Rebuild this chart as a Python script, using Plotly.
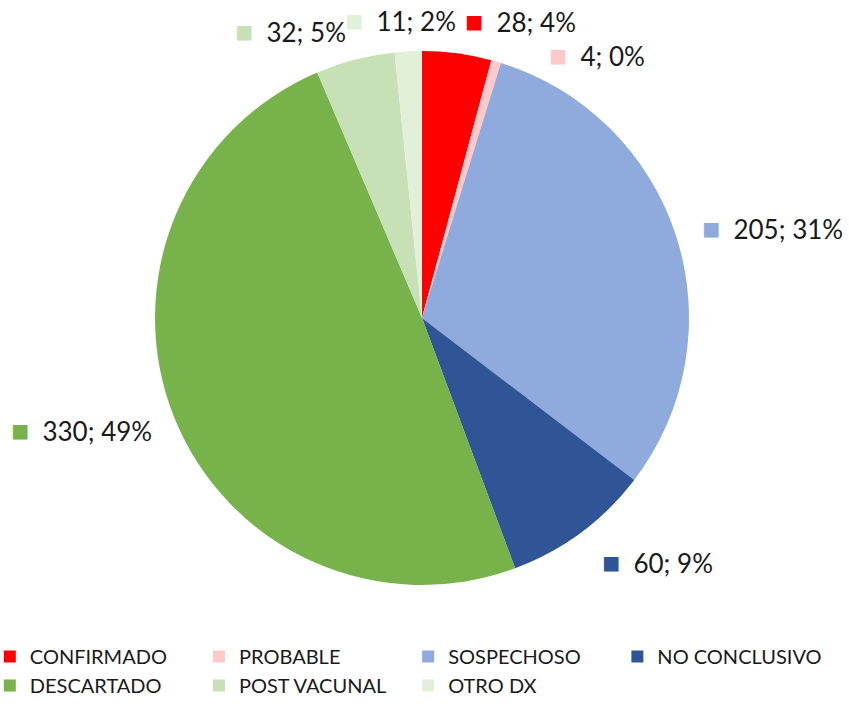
import math
import plotly.graph_objects as go

labels = ["CONFIRMADO", "PROBABLE", "SOSPECHOSO", "NO CONCLUSIVO",
          "DESCARTADO", "POST VACUNAL", "OTRO DX"]
values = [28, 4, 205, 60, 330, 32, 11]
pct_labels = [4, 0, 31, 9, 49, 5, 2]
colors = ["#FF0000", "#FFC9C9", "#8FAADC", "#2F5597",
          "#77B24B", "#C7E0B5", "#E2F0D9"]

W, H = 849, 706
MB = 100                      # bottom margin holding the legend
PH = H - MB                   # plot-area height
cx, cy, r = 422, 318, 267
dom_x = [(cx - r) / W, (cx + r) / W]
dom_y = [1 - (cy + r) / PH, 1 - (cy - r) / PH]

fig = go.Figure(go.Pie(
    labels=labels, values=values, sort=False, direction="clockwise",
    rotation=0, textinfo="none", hoverinfo="label+value+percent",
    marker=dict(colors=colors, line=dict(width=0)),
    domain=dict(x=dom_x, y=dom_y),
))

# data labels placed from slice mid-angles
label_shift = {0: (2, -2), 1: (42, 23), 2: (-7, 0), 3: (0, 3), 4: (10, 0),
               5: (1, 2), 6: (-6, 0)}
total = sum(values)
cum = 0
R = r * 1.12
annotations = []
for i, (v, p, c) in enumerate(zip(values, pct_labels, colors)):
    mid = (cum + v / 2) / total * 2 * math.pi
    cum += v
    s, co = math.sin(mid), math.cos(mid)
    px = cx + R * s
    py = cy - R * co
    dx, dy = label_shift.get(i, (0, 0))
    px += dx
    py += dy
    if s > 0.1 or i == 1:
        xa = "left"
    elif s < -0.1:
        xa = "right"
    else:
        xa = "center"
    annotations.append(dict(
        x=px / W, y=1 - py / PH, xref="paper", yref="paper",
        xanchor=xa, yanchor="middle", showarrow=False,
        text=(f'<span style="color:{c};font-size:30px">■</span>'
              f'&nbsp;&nbsp;{v}; {p}%'),
        font=dict(family="Lato, sans-serif", size=26, color="#1a1a1a"),
    ))

fig.update_layout(
    width=W, height=H,
    margin=dict(l=0, r=0, t=0, b=MB, autoexpand=False),
    paper_bgcolor="white", plot_bgcolor="white",
    annotations=annotations,
    showlegend=True,
    legend=dict(
        orientation="h", x=-0.012, xanchor="left",
        y=(PH - 637) / PH, yanchor="top",
        font=dict(family="Lato, sans-serif", size=20, color="#1a1a1a"),
        traceorder="normal",
    ),
)

fig.write_html("out.html", config={"displayModeBar": False},
               post_script="document.body.style.margin='0';")
